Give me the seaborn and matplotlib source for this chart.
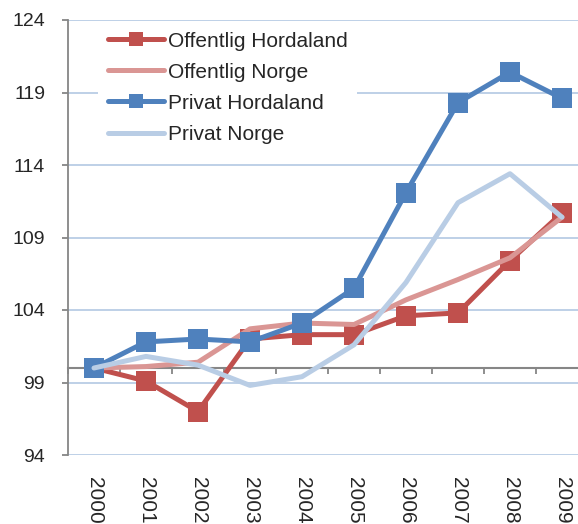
import numpy as np
import pandas as pd
import seaborn as sns
import matplotlib.pyplot as plt

# data (index, 2000 = 100)
years = ['2000', '2001', '2002', '2003', '2004', '2005', '2006', '2007', '2008', '2009']
offentlig_hordaland = [100.0, 99.1, 97.0, 102.0, 102.3, 102.3, 103.6, 103.8, 107.4, 110.7]
offentlig_norge = [100.0, 100.1, 100.4, 102.7, 103.1, 103.0, 104.7, 106.1, 107.6, 110.4]
privat_hordaland = [100.0, 101.8, 102.0, 101.8, 103.1, 105.5, 112.1, 118.3, 120.4, 118.6]
privat_norge = [100.0, 100.8, 100.2, 98.8, 99.4, 101.6, 105.9, 111.4, 113.4, 110.4]
yticks = [94, 99, 104, 109, 114, 119, 124]

series = {
    'Offentlig Hordaland': offentlig_hordaland,
    'Offentlig Norge': offentlig_norge,
    'Privat Hordaland': privat_hordaland,
    'Privat Norge': privat_norge,
}
farger = {
    'Offentlig Hordaland': '#C0504D',
    'Offentlig Norge': '#DA9694',
    'Privat Hordaland': '#4F81BD',
    'Privat Norge': '#B9CDE5',
}
markorer = {
    'Offentlig Hordaland': 's',
    'Offentlig Norge': None,
    'Privat Hordaland': 's',
    'Privat Norge': None,
}

sns.set_style('white')
plt.rcParams['font.family'] = ['Liberation Sans', 'DejaVu Sans']

fig = plt.figure(figsize=(5.78, 5.24), dpi=100)
ax = fig.add_axes([68 / 578, 1 - 455 / 524, 520 / 578, 435 / 524])

x = np.arange(len(years))
for navn, verdier in series.items():
    df = pd.DataFrame({'x': x, 'y': verdier})
    sns.lineplot(data=df, x='x', y='y', ax=ax, color=farger[navn], linewidth=3.6,
                 marker=markorer[navn], markersize=14, markeredgewidth=0,
                 label=navn, zorder=2)

ax.set_xlim(-0.5, len(years) - 0.5)
ax.set_ylim(94, 124)
ax.set_yticks(yticks)
ax.set_xticks(x)
ax.set_xticklabels(years, rotation=-90, va='top', ha='center')
ax.set_xlabel('')
ax.set_ylabel('')

ax.set_axisbelow(True)
ax.yaxis.grid(True, color='#B9CDE5', linewidth=1.3)
ax.xaxis.grid(False)
for s in ['top', 'right', 'bottom']:
    ax.spines[s].set_visible(False)
ax.spines['left'].set_color('#868686')
ax.spines['left'].set_linewidth(1.3)
ax.tick_params(axis='y', left=True, length=4.5, width=1.3, color='#868686', pad=12, labelsize=14)
ax.tick_params(axis='x', bottom=False, length=0, pad=16, labelsize=15)

# category axis crossing at 100 with tick marks between categories
sek = ax.secondary_xaxis((100 - 94) / (124 - 94))
sek.set_xticks(np.arange(len(years) + 1) - 0.5)
sek.set_xticklabels([])
sek.spines['bottom'].set_color('#868686')
sek.spines['bottom'].set_linewidth(1.5)
sek.tick_params(axis='x', direction='out', length=4.5, width=1.3, color='#868686')
sek.set_zorder(1.5)

leg = ax.legend(loc='upper left', bbox_to_anchor=(0.058, 0.995), borderaxespad=0,
                fontsize=15, frameon=True, facecolor='white', edgecolor='none',
                framealpha=1, fancybox=False, borderpad=0.45, handlelength=2.7,
                handletextpad=0.2, labelspacing=0.58)
leg.set_zorder(5)
for h in leg.legend_handles:
    h.set_markersize(10.5)

fig.savefig('out.png', dpi=100)
